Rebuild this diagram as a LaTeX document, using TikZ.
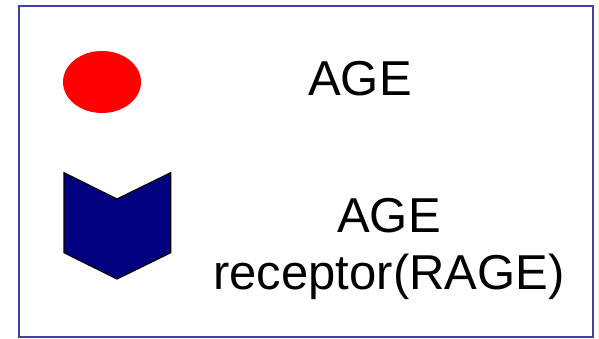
\documentclass[tikz,border=0pt]{standalone}
\usepackage{fontspec}
\setmainfont{Liberation Sans}
\usetikzlibrary{shapes.geometric}
\definecolor{frameblue}{RGB}{64,64,168}
\definecolor{navyfill}{RGB}{0,0,128}
\tikzset{
  label text/.style={font=\fontsize{49}{57}\selectfont, anchor=base, inner sep=0pt},
  frame/.style={draw=frameblue, line width=2pt},
  agedot/.style={ellipse, fill=red, draw=none, minimum width=78pt, minimum height=62pt, inner sep=0pt},
  receptor/.style={fill=navyfill, draw=black, line width=1.2pt, line join=miter}
}
\begin{document}
\begin{tikzpicture}[x=1pt,y=1pt]
\useasboundingbox (0,0) rectangle (599,339);
\draw[frame] (19,2) rectangle (593,333);
\node[agedot] (age) at (102,257) {};
\draw[receptor] (64,166.3) -- (117,140) -- (170.7,166.3) -- (170.7,86.3) -- (117,60) -- (64,86.3) -- cycle;
\node[label text] (agelabel) at (360,243) {AGE};
\node[label text] (ragelabel1) at (389,106) {AGE};
\node[label text] (ragelabel2) at (389,49) {receptor(RAGE)};
\end{tikzpicture}
\end{document}
